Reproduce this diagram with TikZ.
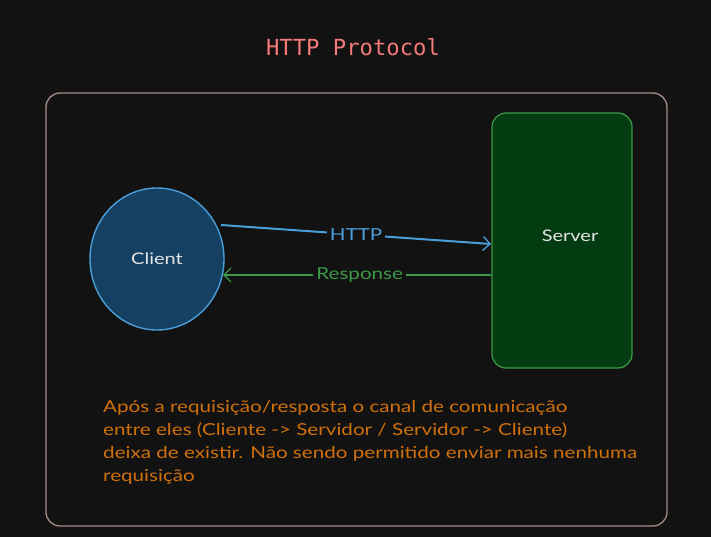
\documentclass[tikz,border=0pt]{standalone}
\usepackage{fontspec}
\setmainfont{Lato}
\newfontfamily\handfont[FakeStretch=1.25]{Lato}
\newfontfamily\titlefont{DejaVu Sans Mono}
\usetikzlibrary{arrows.meta,shapes.geometric}
\definecolor{bg}{HTML}{121212}
\definecolor{framec}{HTML}{A58E86}
\definecolor{srvfill}{HTML}{043C12}
\definecolor{srvline}{HTML}{3C9A46}
\definecolor{clifill}{HTML}{154062}
\definecolor{cliline}{HTML}{4A9EDA}
\definecolor{titlec}{HTML}{F47A7A}
\definecolor{notec}{HTML}{D0700C}
\definecolor{txtc}{HTML}{E4E4E4}
\tikzset{
  frame/.style={draw=framec,line width=1.3pt,rounded corners=14pt},
  serverbox/.style={draw=srvline,fill=srvfill,line width=1.2pt,rounded corners=14pt,minimum width=140pt,minimum height=255pt},
  clientnode/.style={ellipse,draw=cliline,fill=clifill,line width=1.4pt,minimum width=134pt,minimum height=142pt,inner sep=0pt,text=txtc,font=\handfont\fontsize{16}{18}\selectfont},
  conn/.style={line width=2pt,-{Straight Barb[length=7pt,width=14pt,line width=1.3pt]}},
  lbl/.style={fill=bg,inner sep=3pt,font=\handfont\fontsize{16.5}{18}\selectfont},
  plain/.style={text=txtc,font=\handfont\fontsize{16}{18}\selectfont},
}
\begin{document}
\begin{tikzpicture}[x=1pt,y=-1pt]
\fill[bg] (0,0) rectangle (711,537);
\useasboundingbox (0,0) rectangle (711,537);
\node[text=titlec,font=\titlefont\fontsize{22.2}{25}\selectfont] (title) at (353,47) {HTTP Protocol};
\draw[frame] (46,93) rectangle (667,526);
\node[serverbox] (server) at (562,240.5) {};
\node[plain] (srvtxt) at (570,236) {Server};
\node[clientnode] (client) at (157,259) {Client};
\coordinate (hs) at (221,225);
\coordinate (he) at (491,244);
\draw[conn,draw=cliline] (hs) -- node[lbl,text=cliline] (httpl) {HTTP} (he);
\coordinate (rs) at (491,275);
\coordinate (re) at (223,275);
\draw[conn,draw=srvline,line width=1.1pt] (rs) -- node[lbl,text=srvline,pos=0.49] (respl) {Response} (re);
\node[anchor=north west,text=notec,align=left,font=\handfont\fontsize{16.5}{23}\selectfont,inner sep=0pt] (note) at (103,400)
{Após a requisição/resposta o canal de comunicação\\
entre eles (Cliente -> Servidor / Servidor -> Cliente)\\
deixa de existir. Não sendo permitido enviar mais nenhuma\\
requisição};
\end{tikzpicture}
\end{document}
